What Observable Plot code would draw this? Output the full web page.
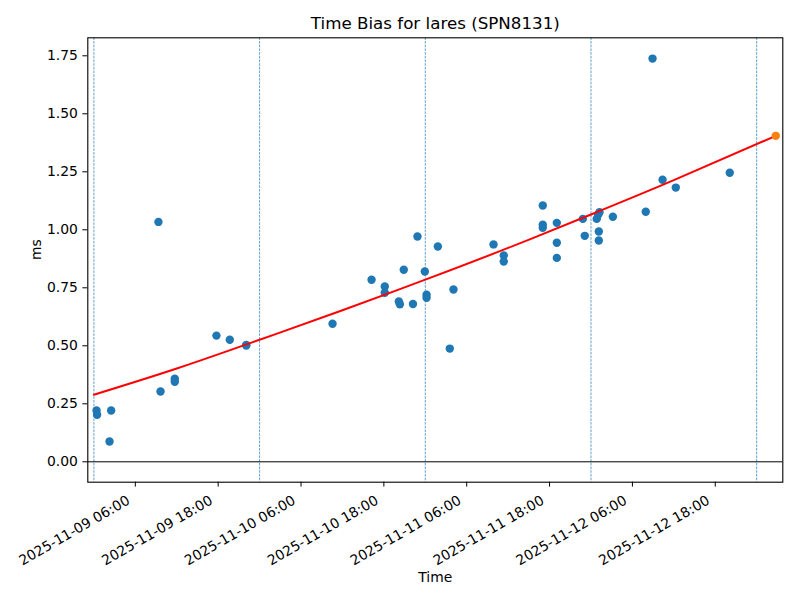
<!DOCTYPE html>
<html><head><meta charset="utf-8">
<script src="https://cdn.jsdelivr.net/npm/d3@7"></script>
<script src="https://cdn.jsdelivr.net/npm/@observablehq/plot@0.6"></script>
<style>body{margin:0;background:#fff}</style>
</head><body><div id="chart"></div>
<script>
// Observations (UTC)
const obsTimes = [
  "2025-11-09T00:23","2025-11-09T00:28","2025-11-09T02:30","2025-11-09T02:16",
  "2025-11-09T09:21","2025-11-09T09:39","2025-11-09T11:43","2025-11-09T11:43",
  "2025-11-09T17:45","2025-11-09T19:41","2025-11-09T22:04","2025-11-09T22:04",
  "2025-11-10T10:34","2025-11-10T16:13","2025-11-10T18:08","2025-11-10T18:08",
  "2025-11-10T20:10","2025-11-10T20:19","2025-11-10T20:53","2025-11-10T22:13",
  "2025-11-10T22:52","2025-11-10T23:56","2025-11-11T00:11","2025-11-11T00:11",
  "2025-11-11T01:49","2025-11-11T03:33","2025-11-11T04:05","2025-11-11T09:53",
  "2025-11-11T11:22","2025-11-11T11:22","2025-11-11T17:01","2025-11-11T17:01",
  "2025-11-11T17:01","2025-11-11T19:03","2025-11-11T19:03","2025-11-11T19:03",
  "2025-11-11T22:49","2025-11-11T23:06","2025-11-12T00:50","2025-11-12T01:02",
  "2025-11-12T01:14","2025-11-12T01:08","2025-11-12T01:08","2025-11-12T03:10",
  "2025-11-12T07:56","2025-11-12T08:55","2025-11-12T10:22","2025-11-12T12:17",
  "2025-11-12T20:06"
];
const obsValues = [
  0.221, 0.203, 0.221, 0.0875,
  1.034, 0.303, 0.358, 0.345,
  0.544, 0.526, 0.501, 0.504,
  0.595, 0.785, 0.756, 0.729,
  0.691, 0.679, 0.828, 0.680,
  0.971, 0.820, 0.720, 0.707,
  0.928, 0.488, 0.743, 0.937,
  0.889, 0.863, 1.105, 1.022,
  1.009, 1.030, 0.944, 0.879,
  1.047, 0.974, 1.047, 1.065,
  1.076, 0.993, 0.954, 1.056,
  1.078, 1.738, 1.216, 1.182,
  1.246
];
// Predicted point
const predTimes = ["2025-11-13T02:46"];
const predValues = [1.405];
// Fit curve samples
const fitTimes = ["2025-11-09T00:00","2025-11-09T12:00","2025-11-10T00:00","2025-11-10T12:00",
  "2025-11-11T00:00","2025-11-11T12:00","2025-11-12T00:00","2025-11-12T12:00","2025-11-13T02:46"];
const fitValues = [0.289, 0.402, 0.526, 0.653, 0.785, 0.922, 1.066, 1.214, 1.405];
// Day boundaries
const dayLines = ["2025-11-09T00:00","2025-11-10T00:00","2025-11-11T00:00","2025-11-12T00:00","2025-11-13T00:00"];
// Ticks
const xTickTimes = ["2025-11-09T06:00","2025-11-09T18:00","2025-11-10T06:00","2025-11-10T18:00",
  "2025-11-11T06:00","2025-11-11T18:00","2025-11-12T06:00","2025-11-12T18:00"];
const yTicks = [0, 0.25, 0.5, 0.75, 1.0, 1.25, 1.5, 1.75];
const titleText = "Time Bias for lares (SPN8131)";
const xLabel = "Time";
const yLabel = "ms";

const P = s => new Date(s + ":00Z");
const obs = obsTimes.map((t, i) => ({t: P(t), v: obsValues[i]}));
const pred = predTimes.map((t, i) => ({t: P(t), v: predValues[i]}));
const fit = fitTimes.map((t, i) => ({t: P(t), v: fitValues[i]}));
const days = dayLines.map(P);
const xTicks = xTickTimes.map(P);
const fmt = d3.utcFormat("%Y-%m-%d %H:%M");

const plot = Plot.plot({
  width: 800, height: 600,
  marginLeft: 87.3, marginRight: 17.7, marginTop: 37.3, marginBottom: 118.3,
  style: {fontFamily: "'DejaVu Sans', sans-serif", fontSize: "13.9px", color: "black", background: "white", overflow: "visible"},
  x: {type: "utc", domain: [P("2025-11-08T23:07"), P("2025-11-13T03:47")]},
  y: {domain: [-0.0879, 1.8276]},
  marks: [
    Plot.dot(obs, {x: "t", y: "v", r: 4.2, fill: "#1f77b4"}),
    Plot.ruleX(days, {stroke: "#1f77b4", strokeWidth: 0.7, strokeDasharray: "2.6,1.1"}),
    Plot.ruleY([0], {stroke: "black", strokeWidth: 1}),
    Plot.line(fit, {x: "t", y: "v", stroke: "red", strokeWidth: 2, curve: "natural"}),
    Plot.dot(pred, {x: "t", y: "v", r: 4.2, fill: "#ff7f0e"}),
    Plot.frame({stroke: "black", strokeWidth: 1.1}),
    Plot.axisY({ticks: yTicks, tickFormat: d3.format(".2f"), tickSize: 4.9, tickPadding: 5, label: null, fontSize: 13.9}),
    Plot.axisX({ticks: xTicks, tickFormat: () => "", tickSize: 4.9, label: null}),
    Plot.text(xTicks, {x: d => d, text: d => fmt(d), frameAnchor: "bottom", rotate: -30, textAnchor: "end", lineAnchor: "bottom", dx: -4.5, dy: 21, fontSize: 13.9}),
    Plot.text([titleText], {frameAnchor: "top", dy: -9.3, lineAnchor: "bottom", fontSize: 16.7}),
    Plot.text([xLabel], {frameAnchor: "bottom", dy: 99.8, lineAnchor: "bottom", fontSize: 13.9}),
    Plot.text([yLabel], {frameAnchor: "left", dx: -47.3, rotate: -90, lineAnchor: "bottom", fontSize: 13.9})
  ]
});
document.getElementById("chart").appendChild(plot);
</script>
</body></html>
